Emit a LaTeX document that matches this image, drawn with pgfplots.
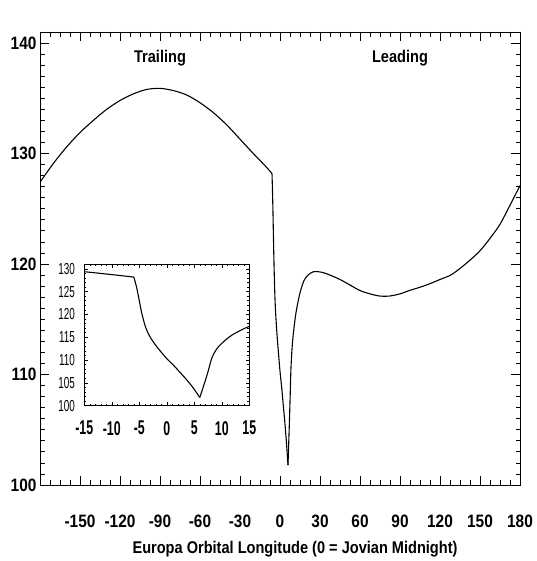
\documentclass[border=0pt]{standalone}
\usepackage{fontspec}
\setmainfont[FakeStretch=0.86]{Liberation Sans}
\newfontfamily\insetfont[FakeStretch=0.62]{Liberation Sans}
\usepackage{pgfplots}
\usepackage{pgfplotstable}
\pgfplotsset{compat=1.18}

% brightness temperature profile vs orbital longitude
\pgfplotstableread{
lon val
-180 127.4
-170 129.1
-160 130.6
-150 131.9
-140 133.0
-130 134.0
-120 134.8
-110 135.4
-100 135.8
-90 135.9
-80 135.7
-70 135.3
-60 134.6
-50 133.7
-40 132.6
-30 131.3
-20 130.0
-12 129.0
-6 128.2
-5.5 126.0
-5 123.0
-4.5 120.0
-3.8 117.0
-3 115.0
-1.8 112.9
0 110.3
1.2 108.9
2.4 107.3
3.6 105.7
4.8 103.9
6 101.8
7 105.5
7.5 107.5
8.2 110.5
9 112.3
10 113.7
12 115.6
15 117.4
18 118.5
21 119.0
25 119.3
29 119.3
33 119.2
37.5 119.0
45 118.6
52.5 118.1
60 117.6
67.5 117.3
75 117.1
82 117.1
90 117.3
97 117.6
105 117.9
112 118.2
120 118.6
128 119.0
135 119.6
142 120.3
150 121.2
158 122.4
165 123.6
172 125.2
180 127.1
}\profile

\pgfplotsset{
    profileline/.style={black, line width=1.1pt, smooth, tension=0.5},
}

\begin{document}
\begin{tikzpicture}
\path[use as bounding box] (0,0) rectangle (537bp,561bp);
\begin{axis}[
    at={(40bp,76bp)}, anchor=south west,
    scale only axis, width=480bp, height=453bp,
    xmin=-180, xmax=180, ymin=100, ymax=141,
    xtick={-180,-150,...,180},
    xticklabels={{},-150,-120,-90,-60,-30,0,30,60,90,120,150,180},
    ytick={100,110,...,140},
    minor x tick num=3, minor y tick num=9,
    tick align=inside,
    major tick length=9bp, minor tick length=4.5bp,
    tick style={black, line width=0.8pt},
    axis line style={line width=1pt},
    /pgf/number format/assume math mode=true,
    tick label style={font=\fontsize{18}{20}\selectfont\bfseries},
    xticklabel style={yshift=-26bp},
    xlabel={Europa Orbital Longitude (0 = Jovian Midnight)},
    xlabel style={at={(axis description cs:0.5,0)}, anchor=center,
        yshift=-64bp, xshift=15bp, font=\fontsize{17}{19}\selectfont\bfseries},
]
\addplot[profileline, restrict x to domain=-180:-6] table[x=lon, y=val] {\profile};
\addplot[profileline, restrict x to domain=-6:6] table[x=lon, y=val] {\profile};
\addplot[profileline, restrict x to domain=6:180] table[x=lon, y=val] {\profile};
\node[font=\fontsize{17}{19}\selectfont\bfseries] at (axis cs:-90,138.6) {Trailing};
\node[font=\fontsize{17}{19}\selectfont\bfseries] at (axis cs:90,138.6) {Leading};
\end{axis}

\begin{axis}[
    at={(84.3bp,155.3bp)}, anchor=south west,
    scale only axis, width=165bp, height=141.4bp,
    xmin=-15, xmax=15, ymin=100, ymax=131,
    xtick={-15,-10,...,15}, ytick={100,105,...,130},
    minor x tick num=4, minor y tick num=4,
    tick align=inside,
    major tick length=3.5bp, minor tick length=2bp,
    tick style={black, line width=0.6pt},
    axis line style={line width=0.9pt},
    axis background/.style={fill=white},
    /pgf/number format/assume math mode=true,
    xticklabel style={font=\insetfont\fontsize{20}{22}\selectfont\bfseries, yshift=-12bp},
    yticklabel style={font=\insetfont\fontsize{16}{17}\selectfont, xshift=-6bp},
]
\addplot[profileline, restrict x to domain=-180:-6] table[x=lon, y=val] {\profile};
\addplot[profileline, restrict x to domain=-6:6] table[x=lon, y=val] {\profile};
\addplot[profileline, restrict x to domain=6:180] table[x=lon, y=val] {\profile};
\end{axis}
\end{tikzpicture}
\end{document}
